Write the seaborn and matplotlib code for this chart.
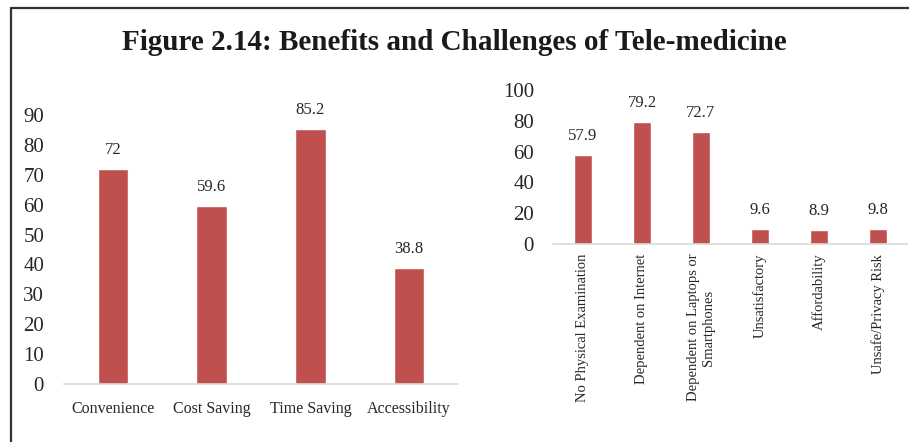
import matplotlib
matplotlib.use("Agg")
import matplotlib.pyplot as plt
from matplotlib.lines import Line2D
import seaborn as sns
import pandas as pd

benefit_labels = ["Convenience", "Cost Saving", "Time Saving", "Accessibility"]
benefit_values = [72, 59.6, 85.2, 38.8]

challenge_labels = ["No Physical Examination", "Dependent on Internet",
                    "Dependent on Laptops or\nSmartphones", "Unsatisfactory",
                    "Affordability", "Unsafe/Privacy Risk"]
challenge_values = [57.9, 79.2, 72.7, 9.6, 8.9, 9.8]

title_text = "Figure 2.14: Benefits and Challenges of Tele-medicine"

sns.set_theme(style="white")
plt.rcParams["font.family"] = ["Liberation Serif", "DejaVu Serif"]

BAR = "#C0504D"
TEXT = "#262626"
BASE = "#D9D9D9"

fig = plt.figure(figsize=(9.09, 4.42), dpi=100)
fig.patch.set_facecolor("white")

ax1 = fig.add_axes([0.0699, 0.1312, 0.4345, 0.6086])
ax2 = fig.add_axes([0.6089, 0.448, 0.3894, 0.3484])

df1 = pd.DataFrame({"cat": benefit_labels, "val": benefit_values})
df2 = pd.DataFrame({"cat": challenge_labels, "val": challenge_values})

sns.barplot(data=df1, x="cat", y="val", color=BAR, width=0.31, ax=ax1,
            saturation=1)
sns.barplot(data=df2, x="cat", y="val", color=BAR, width=0.31, ax=ax2,
            saturation=1)

for ax, vals, ymax, step, cat_size in [(ax1, benefit_values, 90, 10, 11.5),
                                       (ax2, challenge_values, 100, 20, 10.5)]:
    ax.set_ylim(0, ymax)
    ax.set_yticks(range(0, ymax + 1, step))
    ax.set_xlim(-0.5, len(vals) - 0.5)
    ax.set_xlabel("")
    ax.set_ylabel("")
    for side in ["top", "right", "left"]:
        ax.spines[side].set_visible(False)
    ax.spines["bottom"].set_color(BASE)
    ax.spines["bottom"].set_linewidth(1.2)
    ax.tick_params(axis="y", length=0, pad=14, labelsize=15, labelcolor=TEXT)
    ax.tick_params(axis="x", length=0, labelsize=cat_size, labelcolor=TEXT)
    ax.bar_label(ax.containers[0], labels=[f"{v:g}" for v in vals],
                 padding=8, fontsize=12, color=TEXT)

ax1.tick_params(axis="x", pad=12)
ax2.tick_params(axis="x", pad=7)
for lab in ax2.get_xticklabels():
    lab.set_rotation(90)
    lab.set_va("top")
    lab.set_ha("center")
    lab.set_multialignment("center")

fig.text(0.5, 0.903, title_text, ha="center", va="center",
         fontsize=21, fontweight="bold", color="#1a1a1a")

# outer frame
fig.add_artist(Line2D([11 / 909, 1.0], [1 - 8 / 442, 1 - 8 / 442],
                      transform=fig.transFigure, color="#333333", lw=1.6))
fig.add_artist(Line2D([11 / 909, 11 / 909], [0, 1 - 8 / 442],
                      transform=fig.transFigure, color="#333333", lw=1.6))

fig.savefig("out.png", dpi=100, facecolor="white")
